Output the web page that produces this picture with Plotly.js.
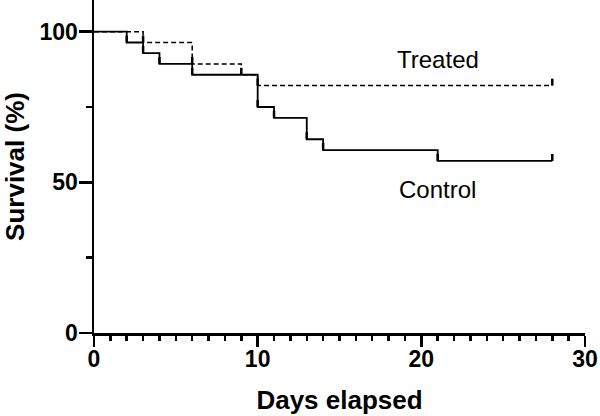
<!DOCTYPE html>
<html>
<head>
<meta charset="utf-8">
<script src="https://cdn.plot.ly/plotly-3.0.1.min.js"></script>
<style>html,body{margin:0;padding:0;background:#fff;}#chart{width:600px;height:416px;}</style>
</head>
<body>
<div id="chart"></div>
<script>
// Kaplan-Meier data (days, survival %)
const controlDays = [0, 2, 3, 4, 6, 10, 11, 13, 14, 21, 28];
const controlSurv = [100, 96.4, 92.9, 89.3, 85.7, 75.0, 71.4, 64.3, 60.7, 57.1, 57.1];
const treatedDays = [0, 3, 6, 9, 10, 28];
const treatedSurv = [100, 96.4, 89.3, 85.7, 82.1, 82.1];
const seriesNames = ['Control', 'Treated'];
const xTickVals = [0, 10, 20, 30];
const yTickVals = [0, 50, 100];

const TICK_H = 2.3;
const FONT = '"Liberation Sans", Arial, sans-serif';

function ticksFor(days) { return days.map((d, i) => (i === 0 ? 0 : TICK_H)); }

const traces = [
  {
    x: controlDays, y: controlSurv, name: seriesNames[0], type: 'scatter', mode: 'lines',
    line: {shape: 'hv', color: '#000', width: 1.8},
    error_y: {type: 'data', symmetric: false, array: ticksFor(controlDays),
              arrayminus: controlDays.map(() => 0), width: 0, thickness: 2.5, color: '#000'}
  },
  {
    x: treatedDays, y: treatedSurv, name: seriesNames[1], type: 'scatter', mode: 'lines',
    line: {shape: 'hv', color: '#000', width: 1.5, dash: '5px,3px'},
    error_y: {type: 'data', symmetric: false, array: ticksFor(treatedDays),
              arrayminus: treatedDays.map(() => 0), width: 0, thickness: 2.5, color: '#000'}
  }
];

const layout = {
  width: 600, height: 416,
  margin: {l: 94, r: 15, t: 0, b: 83, pad: 0},
  paper_bgcolor: '#fff', plot_bgcolor: '#fff',
  showlegend: false,
  font: {family: FONT, color: '#000'},
  xaxis: {
    range: [0, 30], showgrid: false, zeroline: false,
    showline: true, linecolor: '#000', linewidth: 2.5,
    ticks: 'outside', ticklen: 11, tickwidth: 2.5, tickcolor: '#000',
    tickvals: xTickVals, ticktext: xTickVals.map(String),
    tickfont: {family: FONT, size: 23, color: '#000', weight: 'bold'},
    ticklabelstandoff: -7,
    minor: {dtick: 1, ticks: 'outside', ticklen: 5, tickwidth: 2.5, tickcolor: '#000', showgrid: false},
    title: {text: 'Days elapsed', font: {family: FONT, size: 26, color: '#000', weight: 'bold'}, standoff: 20}
  },
  yaxis: {
    range: [0, 110.5], showgrid: false, zeroline: false,
    showline: true, linecolor: '#000', linewidth: 2.5,
    ticks: 'outside', ticklen: 13, tickwidth: 2.5, tickcolor: '#000',
    tickvals: yTickVals, ticktext: yTickVals.map(String),
    tickfont: {family: FONT, size: 23, color: '#000', weight: 'bold'},
    ticklabelstandoff: -4,
    minor: {dtick: 25, ticks: 'outside', ticklen: 6, tickwidth: 2.5, tickcolor: '#000', showgrid: false},
    title: {text: 'Survival (%)', font: {family: FONT, size: 26, color: '#000', weight: 'bold'}, standoff: 12}
  },
  annotations: [
    {x: 21, y: 90.6, xref: 'x', yref: 'y', text: 'Treated', showarrow: false,
     font: {family: FONT, size: 24, color: '#000'}, xanchor: 'center', yanchor: 'middle'},
    {x: 21, y: 47.7, xref: 'x', yref: 'y', text: 'Control', showarrow: false,
     font: {family: FONT, size: 24, color: '#000'}, xanchor: 'center', yanchor: 'middle'}
  ]
};

Plotly.newPlot('chart', traces, layout, {displayModeBar: false, staticPlot: true});
</script>
</body>
</html>
